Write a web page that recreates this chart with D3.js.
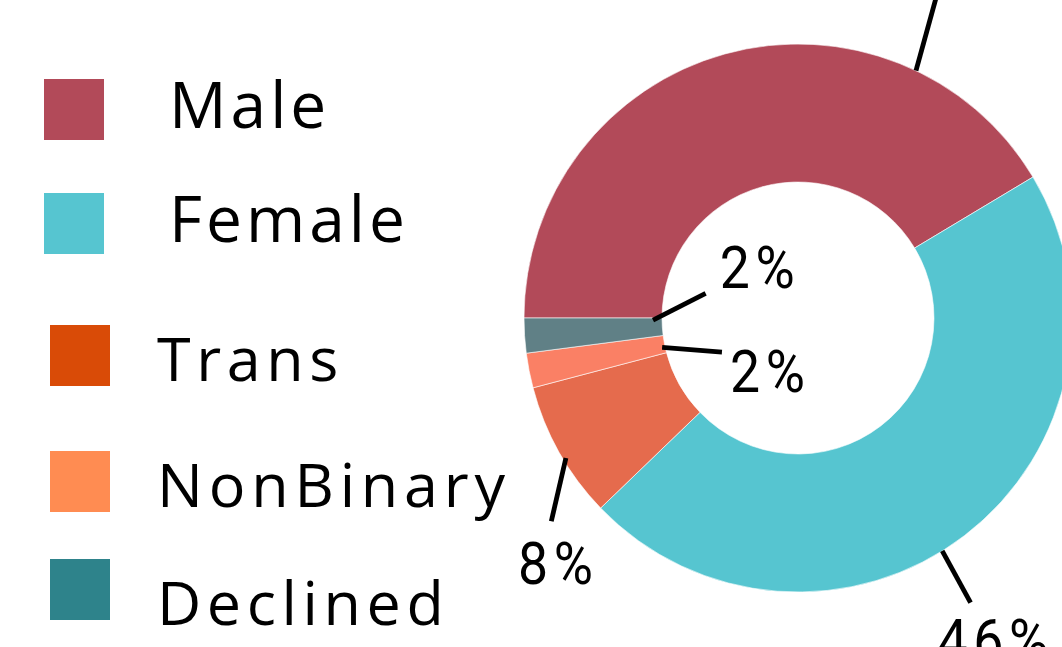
<!DOCTYPE html>
<html>
<head>
<meta charset="utf-8">
<script src="https://cdn.jsdelivr.net/npm/d3@7"></script>
<style>
  html, body { margin: 0; padding: 0; background: #fff; overflow: hidden; }
  svg { display: block; }
</style>
</head>
<body>
<svg id="chart" width="1062" height="647"></svg>
<script>
// ---- data ----
const categories = ["Male", "Female", "Trans", "NonBinary", "Declined"];
const values = [41.4, 46.4, 8.1, 2.05, 2.05];
const sliceColors = ["#b24a59", "#56c5d0", "#e56b4d", "#fa8065", "#608086"];
const legendColors = ["#b24a59", "#56c5d0", "#d94b07", "#ff8c52", "#2e838b"];

// ---- layout (code-side, not data) ----
const W = 1062, H = 647;
const cx = 798, cy = 318, outerR = 274, innerR = 136;

// legend placement per item
const legendLayout = [
  { x: 44, y: 79, tx: 169, ty: 128, fs: 64, ls: 4 },
  { x: 44, y: 193, tx: 169, ty: 242, fs: 64, ls: 4 },
  { x: 50, y: 325, tx: 157, ty: 381, fs: 61, ls: 5.6 },
  { x: 50, y: 451, tx: 157, ty: 507, fs: 61, ls: 5.8 },
  { x: 50, y: 559, tx: 157, ty: 625, fs: 61, ls: 5.6 }
];
// label leader line placement (fraction within slice, anchor radius, direction deg, length, text offset)
const labelLayout = [
  { t: 0.775, r: 274, dir: 15.4, len: 110, dx: 0, dy: -12, anchor: "middle" },
  { t: 0.534, r: 274, dir: 151.3, len: 59, dx: -33, dy: 58, anchor: "start" },
  { t: 0.44, r: 271, dir: 193, len: 65, dx: 7, dy: 63, anchor: "middle" },
  { t: 0.35, r: 139, dir: 94.5, len: 60, dx: 8, dy: 40, anchor: "start" },
  { t: 0.89, r: 145, dir: 63.1, len: 59, dx: 14, dy: -5, anchor: "start" }
];

const svg = d3.select("#chart");

// ---- donut ----
const pie = d3.pie().sort(null).value(d => d)
  .startAngle(-Math.PI / 2).endAngle(3 * Math.PI / 2);
const arcs = pie(values);
const arc = d3.arc().innerRadius(innerR).outerRadius(outerR);

const g = svg.append("g").attr("transform", `translate(${cx},${cy})`);
g.selectAll("path.slice").data(arcs).join("path")
  .attr("class", "slice")
  .attr("d", arc)
  .attr("fill", (d, i) => sliceColors[i])
  .attr("stroke", "#ffffff")
  .attr("stroke-width", 0.6);

// ---- labels ----
const fmt = v => Math.round(v) + "%";
const rad = a => a * Math.PI / 180;
const labelData = arcs.map((a, i) => {
  const L = labelLayout[i];
  const ang = a.startAngle + (a.endAngle - a.startAngle) * L.t;
  const x1 = Math.sin(ang) * L.r, y1 = -Math.cos(ang) * L.r;
  const x2 = x1 + Math.sin(rad(L.dir)) * L.len, y2 = y1 - Math.cos(rad(L.dir)) * L.len;
  return { x1, y1, x2, y2, L, text: fmt(a.data) };
});

g.selectAll("line.leader").data(labelData).join("line")
  .attr("class", "leader")
  .attr("x1", d => d.x1).attr("y1", d => d.y1)
  .attr("x2", d => d.x2).attr("y2", d => d.y2)
  .attr("stroke", "#000").attr("stroke-width", 4.8);

g.selectAll("text.lbl").data(labelData).join("text")
  .attr("class", "lbl")
  .attr("transform", d => `translate(${d.x2 + d.L.dx},${d.y2 + d.L.dy}) scale(0.94,1.04)`)
  .attr("text-anchor", d => d.L.anchor)
  .attr("font-family", "Roboto, 'Liberation Sans', sans-serif")
  .attr("font-size", 57)
  .attr("letter-spacing", 6)
  .attr("fill", "#000")
  .text(d => d.text);

// ---- legend ----
const leg = svg.append("g");
leg.selectAll("rect").data(categories).join("rect")
  .attr("x", (d, i) => legendLayout[i].x)
  .attr("y", (d, i) => legendLayout[i].y)
  .attr("width", 60).attr("height", 61)
  .attr("fill", (d, i) => legendColors[i]);
leg.selectAll("text").data(categories).join("text")
  .attr("x", (d, i) => legendLayout[i].tx)
  .attr("y", (d, i) => legendLayout[i].ty)
  .attr("font-family", "'Open Sans', 'Noto Sans', sans-serif")
  .attr("font-size", (d, i) => legendLayout[i].fs)
  .attr("letter-spacing", (d, i) => legendLayout[i].ls)
  .attr("fill", "#000")
  .text(d => d);
</script>
</body>
</html>
